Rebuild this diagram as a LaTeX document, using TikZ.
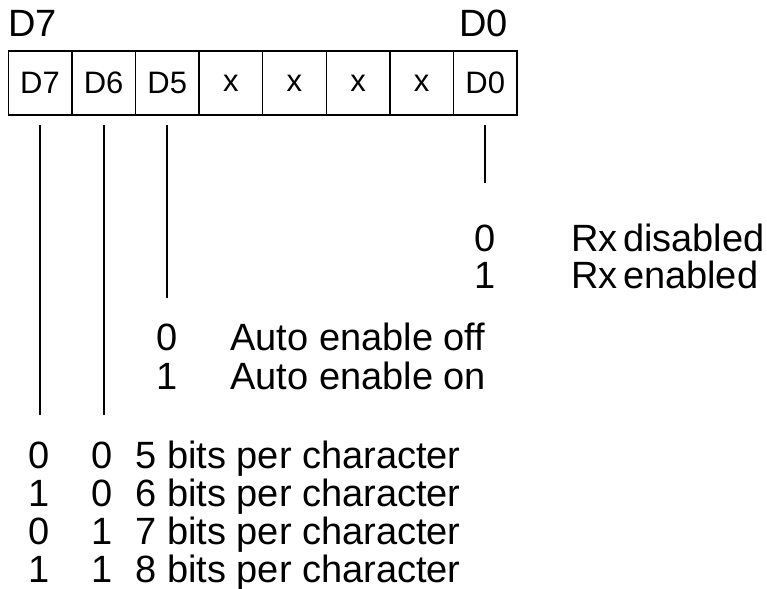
\documentclass[tikz,border=0pt]{standalone}
\usepackage{fontspec}
\setmainfont{Liberation Sans}
\usepackage{tikz}
\usetikzlibrary{positioning}
\tikzset{
  toplabel/.style={inner sep=0pt,font=\fontsize{19}{19}\selectfont},
  bitcell/.style={
    draw,line width=0.7pt,minimum width=31.8pt,minimum height=32pt,
    inner sep=0pt,outer sep=0pt,font=\fontsize{15.5}{15.5}\selectfont
  },
  valtext/.style={inner sep=0pt,anchor=base west,font=\fontsize{19}{19}\selectfont},
  valdigit/.style={inner sep=0pt,anchor=base,font=\fontsize{19}{19}\selectfont},
  bitline/.style={line width=0.9pt,draw=black}
}
\begin{document}
\begin{tikzpicture}[x=0.5pt,y=-0.5pt]
  \useasboundingbox (0,0) rectangle (767,589);
  % register
  \node[toplabel,anchor=base west] (t7) at (8,37) {D7};
  \node[toplabel,anchor=base east] (t0) at (508,37) {D0};
  \node[bitcell] (c7) at (40,83) {D7};
  \node[bitcell,right=0pt of c7] (c6) {D6};
  \node[bitcell,right=0pt of c6] (c5) {D5};
  \node[bitcell,right=0pt of c5] (c4) {x};
  \node[bitcell,right=0pt of c4] (c3) {x};
  \node[bitcell,right=0pt of c3] (c2) {x};
  \node[bitcell,right=0pt of c2] (c1) {x};
  \node[bitcell,right=0pt of c1] (c0) {D0};
  % D0
  \coordinate (e0) at (c0.south |- 0,183);
  \draw[bitline] ([yshift=-5pt]c0.south) -- (e0);
  \node[valdigit] (r0a) at (c0.south |- 0,251) {0};
  \node[valdigit] (r0b) at (c0.south |- 0,288) {1};
  \node[valtext] (rxoff) at (571,251) {Rx\hspace{-0.14em} disabled};
  \node[valtext] (rxon) at (571,288) {Rx\hspace{-0.14em} enabled};
  % D5
  \coordinate (e5) at (c5.south |- 0,298);
  \draw[bitline] ([yshift=-5pt]c5.south) -- (e5);
  \node[valdigit] (a0) at (c5.south |- 0,350) {0};
  \node[valdigit] (a1) at (c5.south |- 0,389) {1};
  \node[valtext] (aoff) at (230,350) {Auto enable off};
  \node[valtext] (aon) at (230,389) {Auto enable on};
  % D7, D6
  \coordinate (e7) at (c7.south |- 0,415);
  \coordinate (e6) at (c6.south |- 0,415);
  \draw[bitline] ([yshift=-5pt]c7.south) -- (e7);
  \draw[bitline] ([yshift=-5pt]c6.south) -- (e6);
  \node[valdigit] (w7a) at (39,468) {0};
  \node[valdigit] (w6a) at (102,468) {0};
  \node[valtext] (w5) at (135,468) {5 bits per character};
  \node[valdigit] (w7b) at (39,506) {1};
  \node[valdigit] (w6b) at (102,506) {0};
  \node[valtext] (w6) at (135,506) {6 bits per character};
  \node[valdigit] (w7c) at (39,544) {0};
  \node[valdigit] (w6c) at (102,544) {1};
  \node[valtext] (w7) at (135,544) {7 bits per character};
  \node[valdigit] (w7d) at (39,582) {1};
  \node[valdigit] (w6d) at (102,582) {1};
  \node[valtext] (w8) at (135,582) {8 bits per character};
\end{tikzpicture}
\end{document}
